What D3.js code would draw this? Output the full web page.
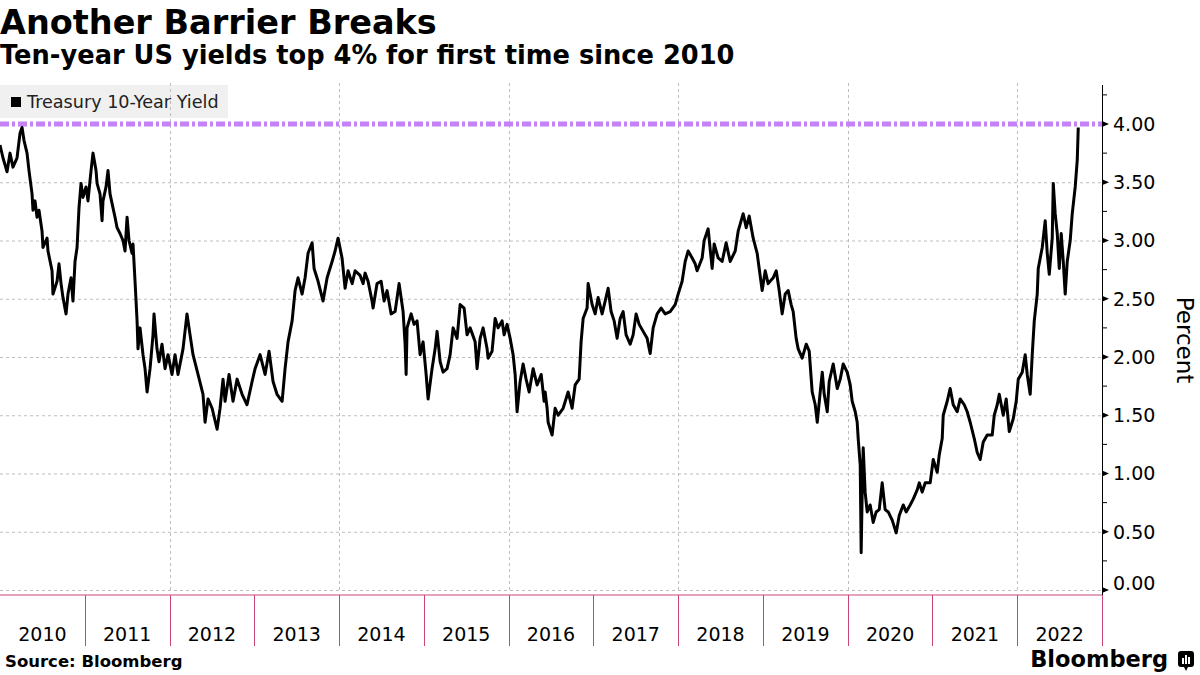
<!DOCTYPE html>
<html lang="en">
  <head>
    <meta charset="UTF-8" />
    <title>Another Barrier Breaks</title>

    <script src="https://d3js.org/d3.v7.min.js"></script>

    <style>
      body {
        margin: 0;
        background: #fff;
      }
      svg {
        display: block;
      }
      text {
        font-family: "DejaVu Sans", Verdana, sans-serif;
      }
    </style>
  </head>

  <body>
    <svg width="1200" height="675"></svg>

    <script>
      // Treasury 10-year yield (decimal year, percent)
      const dates = [
        2010.000, 2010.035, 2010.083, 2010.118, 2010.153, 2010.201, 2010.236, 2010.26, 2010.283, 2010.319, 2010.342, 2010.378, 2010.389, 2010.413, 2010.437, 2010.46, 2010.496, 2010.507, 2010.555, 2010.566, 2010.614, 2010.625, 2010.673, 2010.696, 2010.72, 2010.743, 2010.779, 2010.802, 2010.838, 2010.861, 2010.885, 2010.909, 2010.932, 2010.956, 2010.979,
        2011.015, 2011.038, 2011.074, 2011.097, 2011.133, 2011.145, 2011.18, 2011.204, 2011.215, 2011.251, 2011.274, 2011.298, 2011.333, 2011.357, 2011.381, 2011.416, 2011.451, 2011.475, 2011.499, 2011.522, 2011.558, 2011.569, 2011.593, 2011.617, 2011.628, 2011.652, 2011.687, 2011.711, 2011.735, 2011.77, 2011.805, 2011.817, 2011.852, 2011.876, 2011.911, 2011.947, 2011.982,
        2012.029, 2012.065, 2012.1, 2012.159, 2012.206, 2012.242, 2012.277, 2012.336, 2012.395, 2012.419, 2012.454, 2012.502, 2012.561, 2012.596, 2012.631, 2012.655, 2012.702, 2012.749, 2012.797, 2012.856, 2012.914, 2012.974,
        2013.009, 2013.068, 2013.127, 2013.174, 2013.221, 2013.268, 2013.328, 2013.363, 2013.398, 2013.446, 2013.481, 2013.516, 2013.564, 2013.599, 2013.634, 2013.682, 2013.705, 2013.752, 2013.811, 2013.859, 2013.918, 2013.953, 2013.988,
        2014.035, 2014.071, 2014.106, 2014.154, 2014.189, 2014.248, 2014.283, 2014.307, 2014.342, 2014.389, 2014.401, 2014.448, 2014.496, 2014.531, 2014.566, 2014.614, 2014.661, 2014.708, 2014.755, 2014.779, 2014.791, 2014.802, 2014.85, 2014.885, 2014.92, 2014.956, 2014.991,
        2015.027, 2015.05, 2015.097, 2015.133, 2015.156, 2015.192, 2015.227, 2015.274, 2015.31, 2015.345, 2015.392, 2015.428, 2015.475, 2015.51, 2015.546, 2015.605, 2015.628, 2015.664, 2015.699, 2015.746, 2015.758, 2015.805, 2015.841, 2015.876, 2015.923, 2015.947, 2015.982,
        2016.018, 2016.053, 2016.077, 2016.1, 2016.136, 2016.171, 2016.206, 2016.242, 2016.289, 2016.336, 2016.384, 2016.419, 2016.431, 2016.454, 2016.466, 2016.513, 2016.549, 2016.584, 2016.643, 2016.702, 2016.749, 2016.785, 2016.832, 2016.855, 2016.879, 2016.926, 2016.938, 2016.985,
        2017.021, 2017.056, 2017.103, 2017.139, 2017.174, 2017.209, 2017.245, 2017.28, 2017.316, 2017.351, 2017.386, 2017.434, 2017.469, 2017.504, 2017.54, 2017.587, 2017.634, 2017.67, 2017.705, 2017.752, 2017.799, 2017.847, 2017.906, 2017.965,
        2018.0, 2018.047, 2018.083, 2018.118, 2018.165, 2018.201, 2018.224, 2018.283, 2018.307, 2018.354, 2018.401, 2018.425, 2018.472, 2018.519, 2018.566, 2018.614, 2018.673, 2018.708, 2018.767, 2018.803, 2018.838, 2018.885, 2018.932, 2018.956, 2018.991,
        2019.027, 2019.062, 2019.121, 2019.157, 2019.192, 2019.227, 2019.263, 2019.298, 2019.333, 2019.357, 2019.392, 2019.416, 2019.463, 2019.511, 2019.546, 2019.581, 2019.617, 2019.641, 2019.676, 2019.7, 2019.723, 2019.759, 2019.782, 2019.829, 2019.877, 2019.912, 2019.947, 2019.994,
        2020.03, 2020.053, 2020.089, 2020.112, 2020.124, 2020.148, 2020.159, 2020.171, 2020.183, 2020.206, 2020.23, 2020.265, 2020.301, 2020.336, 2020.372, 2020.407, 2020.442, 2020.478, 2020.525, 2020.572, 2020.608, 2020.655, 2020.69, 2020.737, 2020.773, 2020.82, 2020.844, 2020.879, 2020.915, 2020.973,
        2021.009, 2021.056, 2021.08, 2021.115, 2021.127, 2021.174, 2021.209, 2021.245, 2021.292, 2021.327, 2021.375, 2021.41, 2021.445, 2021.493, 2021.528, 2021.563, 2021.599, 2021.646, 2021.705, 2021.729, 2021.764, 2021.788, 2021.835, 2021.87, 2021.906, 2021.953, 2021.988,
        2022.012, 2022.059, 2022.094, 2022.118, 2022.153, 2022.177, 2022.201, 2022.236, 2022.248, 2022.295, 2022.33, 2022.354, 2022.378, 2022.413, 2022.425, 2022.448, 2022.472, 2022.496, 2022.519, 2022.543, 2022.566, 2022.59, 2022.625, 2022.649, 2022.684, 2022.708, 2022.72
      ];
      const yields = [
        3.82, 3.71, 3.59, 3.75, 3.63, 3.71, 3.92, 3.97, 3.86, 3.75, 3.6, 3.4, 3.26, 3.34, 3.2, 3.26, 3.08, 2.94, 3.02, 2.91, 2.74, 2.54, 2.65, 2.8, 2.63, 2.51, 2.37, 2.54, 2.68, 2.48, 2.82, 2.94, 3.28, 3.49, 3.37,
        3.46, 3.34, 3.6, 3.75, 3.6, 3.49, 3.4, 3.17, 3.34, 3.46, 3.6, 3.4, 3.28, 3.2, 3.11, 3.06, 3.0, 2.91, 3.2, 3.0, 2.89, 2.97, 2.65, 2.31, 2.07, 2.25, 2.02, 1.9, 1.7, 1.9, 2.19, 2.37, 2.07, 1.96, 2.11, 1.9, 2.02,
        1.85, 2.02, 1.85, 2.07, 2.37, 2.19, 2.02, 1.85, 1.68, 1.44, 1.64, 1.56, 1.38, 1.56, 1.81, 1.62, 1.85, 1.62, 1.81, 1.68, 1.59, 1.79,
        1.9, 2.02, 1.85, 2.05, 1.79, 1.68, 1.62, 1.9, 2.13, 2.31, 2.57, 2.68, 2.54, 2.68, 2.89, 2.98, 2.76, 2.65, 2.48, 2.68, 2.82, 2.91, 3.02,
        2.85, 2.59, 2.74, 2.63, 2.74, 2.7, 2.63, 2.72, 2.65, 2.48, 2.42, 2.63, 2.65, 2.48, 2.57, 2.37, 2.39, 2.63, 2.39, 2.11, 1.85, 2.25, 2.37, 2.28, 2.31, 2.02, 2.13,
        1.85, 1.64, 1.9, 2.07, 2.22, 1.96, 1.87, 1.9, 2.02, 2.25, 2.16, 2.45, 2.42, 2.19, 2.25, 2.13, 1.9, 2.16, 2.25, 2.07, 1.99, 2.05, 2.33, 2.25, 2.31, 2.19, 2.28,
        2.16, 2.02, 1.85, 1.53, 1.79, 1.94, 1.81, 1.7, 1.9, 1.76, 1.85, 1.62, 1.7, 1.56, 1.44, 1.33, 1.56, 1.5, 1.56, 1.7, 1.56, 1.76, 1.81, 2.13, 2.33, 2.42, 2.63, 2.45,
        2.37, 2.51, 2.37, 2.48, 2.59, 2.39, 2.31, 2.16, 2.33, 2.39, 2.19, 2.11, 2.19, 2.37, 2.28, 2.22, 2.16, 2.03, 2.25, 2.37, 2.42, 2.37, 2.39, 2.45,
        2.54, 2.65, 2.82, 2.91, 2.85, 2.8, 2.74, 2.85, 3.0, 3.1, 2.76, 2.97, 2.85, 2.82, 2.98, 2.82, 2.91, 3.08, 3.23, 3.11, 3.21, 3.02, 2.89, 2.76, 2.57,
        2.74, 2.63, 2.68, 2.74, 2.57, 2.37, 2.54, 2.57, 2.45, 2.39, 2.16, 2.07, 1.99, 2.11, 2.05, 1.7, 1.59, 1.44, 1.7, 1.87, 1.68, 1.53, 1.79, 1.94, 1.73, 1.81, 1.94, 1.87,
        1.76, 1.62, 1.53, 1.44, 1.3, 1.07, 0.32, 0.84, 1.22, 0.84, 0.67, 0.73, 0.58, 0.67, 0.69, 0.92, 0.69, 0.67, 0.6, 0.49, 0.64, 0.73, 0.67, 0.73, 0.78, 0.86, 0.92, 0.84, 0.92, 0.92,
        1.12, 1.01, 1.16, 1.3, 1.5, 1.62, 1.73, 1.59, 1.53, 1.64, 1.59, 1.53, 1.44, 1.3, 1.18, 1.12, 1.27, 1.33, 1.33, 1.5, 1.59, 1.68, 1.5, 1.64, 1.36, 1.47, 1.62,
        1.81, 1.87, 2.02, 1.85, 1.68, 2.02, 2.31, 2.54, 2.76, 2.94, 3.17, 2.89, 2.71, 3.02, 3.49, 3.23, 3.06, 2.76, 3.06, 2.82, 2.54, 2.82, 3.0, 3.23, 3.46, 3.69, 3.97
      ];

      const yearLabels = ["2010", "2011", "2012", "2013", "2014", "2015", "2016", "2017", "2018", "2019", "2020", "2021", "2022"];
      const majorTicks = [0, 0.5, 1, 1.5, 2, 2.5, 3, 3.5, 4];
      const minorTicks = [0.25, 0.75, 1.25, 1.75, 2.25, 2.75, 3.25, 3.75, 4.25];
      const gridYears = [2012, 2014, 2016, 2018, 2020, 2022];
      const barrier = 4;

      const svg = d3.select("svg");
      const plotTop = 85,
        axisY = 595,
        axisX = 1102;

      // scales
      const x = d3.scaleLinear().domain([2010, 2023]).range([0, axisX]);
      const y = d3.scaleLinear().domain([0, 4]).range([590, 124]);

      // titles
      svg
        .append("text")
        .attr("x", 0)
        .attr("y", 34)
        .attr("font-size", 33.5)
        .attr("font-weight", "bold")
        .attr("fill", "#000")
        .text("Another Barrier Breaks");
      svg
        .append("text")
        .attr("x", 0)
        .attr("y", 64)
        .attr("font-size", 25.7)
        .attr("font-weight", "bold")
        .attr("fill", "#000")
        .text("Ten-year US yields top 4% for first time since 2010");

      // legend box (under the grid)
      const legend = svg.append("g");
      legend
        .append("rect")
        .attr("x", 0)
        .attr("y", plotTop)
        .attr("width", 228)
        .attr("height", 33)
        .attr("fill", "#f0f0f0");
      legend
        .append("rect")
        .attr("x", 11)
        .attr("y", 97)
        .attr("width", 10)
        .attr("height", 10)
        .attr("fill", "#000");
      legend
        .append("text")
        .attr("x", 27)
        .attr("y", 102)
        .attr("dy", "0.35em")
        .attr("font-family", "Liberation Sans, Arial, sans-serif")
        .attr("font-size", 17.6)
        .attr("fill", "#222")
        .text("Treasury 10-Year Yield");

      // grid
      const grid = svg.append("g").attr("stroke", "#bdbdbd").attr("stroke-width", 1).attr("stroke-dasharray", "3,3");
      grid
        .selectAll("line.h")
        .data(majorTicks.filter((d) => d < barrier))
        .enter()
        .append("line")
        .attr("x1", 0)
        .attr("x2", axisX)
        .attr("y1", (d) => y(d) + 0.5)
        .attr("y2", (d) => y(d) + 0.5);
      grid
        .selectAll("line.v")
        .data(gridYears)
        .enter()
        .append("line")
        .attr("x1", (d) => Math.round(x(d)) + 0.5)
        .attr("x2", (d) => Math.round(x(d)) + 0.5)
        .attr("y1", plotTop - 2)
        .attr("y2", y(0));

      // 4% barrier
      svg
        .append("line")
        .attr("x1", 0)
        .attr("x2", axisX)
        .attr("y1", y(barrier))
        .attr("y2", y(barrier))
        .attr("stroke", "#c482f5")
        .attr("stroke-width", 5)
        .attr("stroke-dasharray", "9,3,3,3");

      // yield line
      const line = d3
        .line()
        .x((d) => x(d[0]))
        .y((d) => y(d[1]));
      svg
        .append("path")
        .datum(d3.zip(dates, yields))
        .attr("d", line)
        .attr("fill", "none")
        .attr("stroke", "#000")
        .attr("stroke-width", 3)
        .attr("stroke-linejoin", "round");

      // right axis
      const yAxis = svg.append("g").attr("transform", `translate(${axisX},0)`);
      yAxis
        .append("line")
        .attr("x1", 0.5)
        .attr("x2", 0.5)
        .attr("y1", plotTop)
        .attr("y2", axisY)
        .attr("stroke", "#000");
      yAxis
        .selectAll("line.minor")
        .data(minorTicks)
        .enter()
        .append("line")
        .attr("x1", 0)
        .attr("x2", 5)
        .attr("y1", (d) => y(d))
        .attr("y2", (d) => y(d))
        .attr("stroke", "#000");
      yAxis
        .selectAll("path.major")
        .data(majorTicks)
        .enter()
        .append("path")
        .attr("d", (d) => `M0,${y(d) - 3}L7,${y(d)}L0,${y(d) + 3}Z`)
        .attr("fill", "#000");
      yAxis
        .selectAll("text")
        .data(majorTicks)
        .enter()
        .append("text")
        .attr("x", 11)
        .attr("y", (d) => (d === 0 ? y(d) - 7 : y(d)))
        .attr("dy", "0.36em")
        .attr("font-size", 19)
        .attr("fill", "#000")
        .text(d3.format(".2f"));

      svg
        .append("text")
        .attr("transform", "translate(1177,340) rotate(90)")
        .attr("text-anchor", "middle")
        .attr("font-size", 23)
        .attr("fill", "#000")
        .text("Percent");

      // x axis
      const xAxis = svg.append("g").attr("stroke", "#c8467a");
      xAxis.append("line").attr("x1", 0).attr("x2", axisX).attr("y1", axisY).attr("y2", axisY);
      xAxis
        .selectAll("line.sep")
        .data(yearLabels.map((d) => +d + 1))
        .enter()
        .append("line")
        .attr("x1", (d) => Math.round(x(d)) + 0.5)
        .attr("x2", (d) => Math.round(x(d)) + 0.5)
        .attr("y1", axisY)
        .attr("y2", axisY + 51);
      svg
        .append("g")
        .selectAll("text")
        .data(yearLabels)
        .enter()
        .append("text")
        .attr("x", (d) => x(+d + 0.5))
        .attr("y", 634)
        .attr("dy", "0.36em")
        .attr("text-anchor", "middle")
        .attr("font-size", 19)
        .attr("fill", "#000")
        .text((d) => d);

      // footer
      svg
        .append("text")
        .attr("x", 5)
        .attr("y", 667)
        .attr("font-size", 16.5)
        .attr("font-weight", "bold")
        .attr("fill", "#000")
        .text("Source: Bloomberg");
      svg
        .append("text")
        .attr("x", 1168)
        .attr("y", 667)
        .attr("text-anchor", "end")
        .attr("font-family", "Liberation Sans, Arial, sans-serif")
        .attr("font-size", 22.5)
        .attr("font-weight", "bold")
        .attr("fill", "#000")
        .text("Bloomberg");
      const logo = svg.append("g").attr("transform", "translate(1178,651)");
      logo.append("rect").attr("width", 16).attr("height", 16).attr("rx", 3).attr("fill", "#000");
      logo.append("path").attr("d", "M6,16L8,20L10,16Z").attr("fill", "#000");
      logo
        .selectAll("rect.bar")
        .data([[4, 7, 6], [7, 4, 9], [10, 6, 7]])
        .enter()
        .append("rect")
        .attr("x", (d) => d[0])
        .attr("y", (d) => d[1])
        .attr("width", 2)
        .attr("height", (d) => d[2])
        .attr("fill", "#fff");
    </script>
  </body>
</html>
